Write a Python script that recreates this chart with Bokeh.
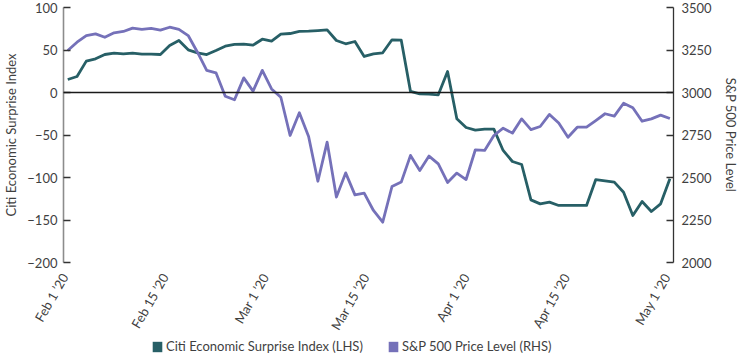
import numpy as np
from bokeh.plotting import figure
from bokeh.layouts import column
from bokeh.models import Range1d, LinearAxis, FixedTicker, Span, Legend, LegendItem
from bokeh.embed import file_html
from bokeh.resources import INLINE

# ---------------- data ----------------
tick_labels = ["Feb 1 \u201920", "Feb 15 \u201920", "Mar 1 \u201920", "Mar 15 \u201920",
               "Apr 1 \u201920", "Apr 15 \u201920", "May 1 \u201920"]

citi_surprise = [
    15.3, 18.8, 36.9, 39.6, 44.7, 46.3, 45.5, 46.3, 45.1, 45.1, 44.7, 55.3, 61.2, 50.2, 46.7, 44.7, 49.4,
    54.5, 56.5, 56.9, 55.7, 62.7, 60.4, 68.6, 69.4, 71.8, 72.2, 72.9, 73.7, 61.2, 57.3, 60.0, 42.4,
    45.5, 46.7, 62.0, 61.6, 1.2, -1.6, -2.0, -2.7, 24.7, -31.0, -41.2, -44.3, -43.1, -43.1, -68.2, -81.2,
    -84.7, -126.3, -131.0, -129.0, -132.9, -132.9, -132.9, -132.9, -102.4, -103.9, -105.5, -117.3,
    -144.7, -128.2, -140.0, -131.0, -101.6,
]

sp500 = [
    3247, 3296, 3335, 3345, 3325, 3351, 3359, 3379, 3371, 3377, 3367, 3384, 3371, 3335, 3237, 3130, 3116,
    2978, 2957, 3086, 3008, 3130, 3021, 2972, 2747, 2881, 2741, 2478, 2708, 2385, 2527, 2398, 2408,
    2306, 2237, 2447, 2473, 2630, 2541, 2626, 2580, 2471, 2526, 2488, 2663, 2659, 2747, 2790, 2761,
    2845, 2782, 2800, 2871, 2820, 2737, 2796, 2796, 2835, 2875, 2861, 2937, 2910, 2831, 2845, 2867, 2847,
]

left_ticks = [-200, -150, -100, -50, 0, 50, 100]
right_ticks = [2000, 2250, 2500, 2750, 3000, 3250, 3500]

series_names = ["Citi Economic Surprise Index (LHS)", "S&P 500 Price Level (RHS)"]

# ---------------- styling ----------------
TEAL = "#275f66"
PURPLE = "#7571b9"
TXT = "#3f3f3f"
FONT = "Lato"
FS = "13px"

n = len(citi_surprise)
k = len(tick_labels) - 1
x = [i * k for i in range(n)]                 # scaled index so tick positions are integers
tick_pos = [j * (n - 1) - 2 for j in range(len(tick_labels))]

p = figure(width=741, height=339, output_backend="svg", toolbar_location=None,
           x_range=Range1d(-0.46 * k, (n - 1 + 0.39) * k),
           y_range=Range1d(-200, 100),
           min_border_left=54, min_border_right=66, min_border_top=7, min_border_bottom=77)
p.extra_y_ranges = {"spx": Range1d(2000, 3500)}
p.grid.visible = False
p.outline_line_color = None
p.background_fill_color = "white"
p.border_fill_color = "white"

# zero line
p.add_layout(Span(location=0, dimension="width", line_color="#1a1a1a", line_width=1.3))

# series
p.line(x, citi_surprise, line_color=TEAL, line_width=2.8, line_join="round")
p.line(x, sp500, y_range_name="spx", line_color=PURPLE, line_width=2.8, line_join="round")

# left axis
ya = p.yaxis[0]
ya.ticker = FixedTicker(ticks=left_ticks)
ya.axis_label = "Citi Economic Surprise Index"
ya.axis_line_color = "#8c8c8c"
ya.axis_line_width = 1.6
ya.major_tick_line_color = "#333333"
ya.major_tick_line_width = 1.3
ya.major_tick_in = 7
ya.major_tick_out = 0
ya.minor_tick_line_color = None
ya.major_label_standoff = 6
ya.axis_label_standoff = 5

# right axis
ra = LinearAxis(y_range_name="spx", ticker=FixedTicker(ticks=right_ticks),
                axis_label="S&P 500 Price Level")
ra.axis_line_color = "#333333"
ra.axis_line_width = 1.3
ra.major_tick_line_color = "#333333"
ra.major_tick_line_width = 1.3
ra.major_tick_in = 7
ra.major_tick_out = 0
ra.minor_tick_line_color = None
ra.major_label_standoff = 8
ra.axis_label_standoff = 8
p.add_layout(ra, "right")

for a in [ya, ra]:
    a.major_label_text_font = FONT
    a.major_label_text_font_size = FS
    a.major_label_text_color = TXT
    a.axis_label_text_font = FONT
    a.axis_label_text_font_size = FS
    a.axis_label_text_font_style = "normal"
    a.axis_label_text_color = TXT

# bottom axis
xa = p.xaxis[0]
xa.ticker = FixedTicker(ticks=tick_pos)
xa.major_label_overrides = {tp: lab for tp, lab in zip(tick_pos, tick_labels)}
xa.major_label_orientation = np.pi / 3
xa.axis_line_color = None
xa.major_tick_line_color = None
xa.minor_tick_line_color = None
xa.major_label_standoff = 6
xa.major_label_text_font = FONT
xa.major_label_text_font_size = FS
xa.major_label_text_color = TXT

# ---------------- legend strip ----------------
lg = figure(width=741, height=17, output_backend="svg", toolbar_location=None,
            x_range=Range1d(0, 1), y_range=Range1d(0, 1),
            x_axis_location=None, y_axis_location=None,
            min_border_left=0, min_border_right=0, min_border_top=0, min_border_bottom=0)
lg.grid.visible = False
lg.outline_line_color = None
q1 = lg.quad(left=[np.nan], right=[np.nan], top=[np.nan], bottom=[np.nan], fill_color=TEAL, line_color=None)
q2 = lg.quad(left=[np.nan], right=[np.nan], top=[np.nan], bottom=[np.nan], fill_color=PURPLE, line_color=None)
legend = Legend(items=[LegendItem(label=series_names[0], renderers=[q1]),
                       LegendItem(label=series_names[1], renderers=[q2])],
                orientation="horizontal", location=(88, 2),
                glyph_width=12, glyph_height=13, spacing=24, padding=0, margin=0,
                label_standoff=3, label_height=13,
                label_text_font=FONT, label_text_font_size=FS, label_text_color=TXT,
                border_line_color=None, background_fill_alpha=0)
lg.add_layout(legend, "center")

layout = column(p, lg, spacing=0)
open("out.html", "w").write(file_html(layout, INLINE))
